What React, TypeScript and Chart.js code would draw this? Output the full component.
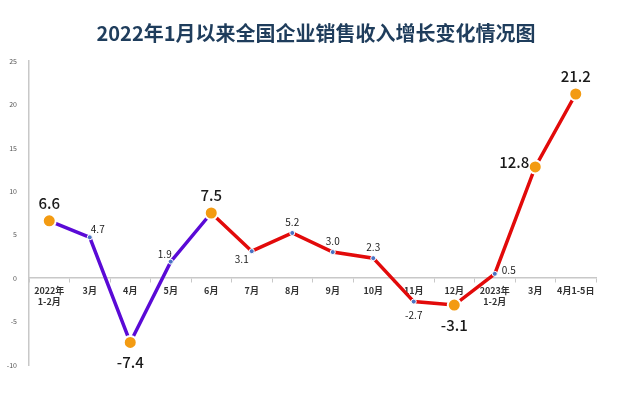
import React, { useEffect, useRef } from "react";
import { Chart, registerables } from "chart.js";

Chart.register(...registerables);

const TITLE = "2022年1月以来全国企业销售收入增长变化情况图";
const categories: (string | string[])[] = [
  ["2022年", "1-2月"], "3月", "4月", "5月", "6月", "7月", "8月", "9月", "10月", "11月", "12月",
  ["2023年", "1-2月"], "3月", "4月1-5日",
];
const growth = [6.6, 4.7, -7.4, 1.9, 7.5, 3.1, 5.2, 3.0, 2.3, -2.7, -3.1, 0.5, 12.8, 21.2];
const valueText = ["6.6", "4.7", "-7.4", "1.9", "7.5", "3.1", "5.2", "3.0", "2.3", "-2.7", "-3.1", "0.5", "12.8", "21.2"];
const highlighted = [true, false, true, false, true, false, false, false, false, false, true, false, true, true];
const labelPlacement = ["top", "topRight", "bottom", "topLeft", "top", "bottomLeft", "top", "top", "top", "bottom", "bottom", "right", "left", "top"];
const yMin = -10;
const yMax = 25;
const yStep = 5;
const purpleUntil = 4;

const FONT = "'Noto Sans CJK SC', 'Noto Sans', sans-serif";
const PURPLE = "#5a0ad6";
const RED = "#e20a0a";
const ORANGE = "#f39b12";
const BLUE = "#4a72c4";

const titlePlugin = {
  id: "titleText",
  afterDraw(chart: any) {
    const ctx = chart.ctx;
    ctx.save();
    ctx.font = `bold 20px ${FONT}`;
    ctx.fillStyle = "#1f3d5c";
    ctx.textAlign = "center";
    ctx.textBaseline = "middle";
    ctx.fillText(TITLE, 316, 33);
    ctx.restore();
  },
};

const offsetsBig: Record<string, [number, number]> = {
  top: [0, -18], bottom: [0, 20], left: [-21, -5], right: [20, -4],
};
const offsetsSmall: Record<string, [number, number]> = {
  top: [0, -11], bottom: [0, 14], topRight: [8, -8], topLeft: [-6, -7], bottomLeft: [-10, 8], right: [14, -4],
};

const labelPlugin = {
  id: "valueLabels",
  afterDatasetsDraw(chart: any) {
    const ctx = chart.ctx;
    const meta = chart.getDatasetMeta(0);
    ctx.save();
    ctx.textAlign = "center";
    ctx.textBaseline = "middle";
    meta.data.forEach((pt: any, i: number) => {
      const big = highlighted[i];
      const off = (big ? offsetsBig : offsetsSmall)[labelPlacement[i]] || [0, -12];
      ctx.font = big ? `500 15px ${FONT}` : `10px ${FONT}`;
      ctx.fillStyle = "#1a1a1a";
      ctx.fillText(valueText[i], pt.x + off[0], pt.y + off[1]);
    });
    ctx.restore();
  },
};

export default function App() {
  const ref = useRef<HTMLCanvasElement>(null);
  useEffect(() => {
    if (!ref.current) return;
    const chart = new Chart(ref.current, {
      type: "line",
      data: {
        labels: categories as any,
        datasets: [
          {
            data: growth,
            borderWidth: 3.5,
            borderColor: RED,
            segment: {
              borderColor: (c: any) => (c.p0DataIndex < purpleUntil ? PURPLE : RED),
            },
            pointRadius: highlighted.map((h) => (h ? 6.5 : 2.5)),
            pointBackgroundColor: highlighted.map((h) => (h ? ORANGE : BLUE)),
            pointBorderColor: "#ffffff",
            pointBorderWidth: highlighted.map((h) => (h ? 2 : 1)),
            tension: 0,
          },
        ],
      },
      options: {
        animation: false,
        responsive: true,
        maintainAspectRatio: false,
        layout: { padding: { left: 0, right: 28, top: 61, bottom: 34 } },
        plugins: { legend: { display: false }, tooltip: { enabled: false }, title: { display: false } },
        scales: {
          x: {
            type: "category",
            position: { y: 0 } as any,
            offset: true,
            grid: { display: true, offset: true, drawOnChartArea: false, drawTicks: true, tickLength: 4, color: "#c8c8c8" },
            border: { display: true, color: "#c8c8c8", width: 1.5 },
            ticks: {
              font: { family: FONT, size: 9, weight: "bold" },
              color: "#333",
              padding: 3,
              maxRotation: 0,
              autoSkip: false,
            },
          },
          y: {
            min: yMin,
            max: yMax,
            afterFit: (s: any) => { s.width = 29; },
            grid: { display: false },
            border: { display: true, color: "#c8c8c8", width: 1.5 },
            ticks: {
              stepSize: yStep,
              font: { family: FONT, size: 7 },
              color: "#555",
              padding: 4,
            },
          },
        },
      },
      plugins: [titlePlugin, labelPlugin],
    });
    return () => chart.destroy();
  }, []);
  return (
    <div style={{ position: "fixed", left: 0, top: 0, width: 624, height: 399, background: "#fff" }}>
      <canvas ref={ref} />
    </div>
  );
}
